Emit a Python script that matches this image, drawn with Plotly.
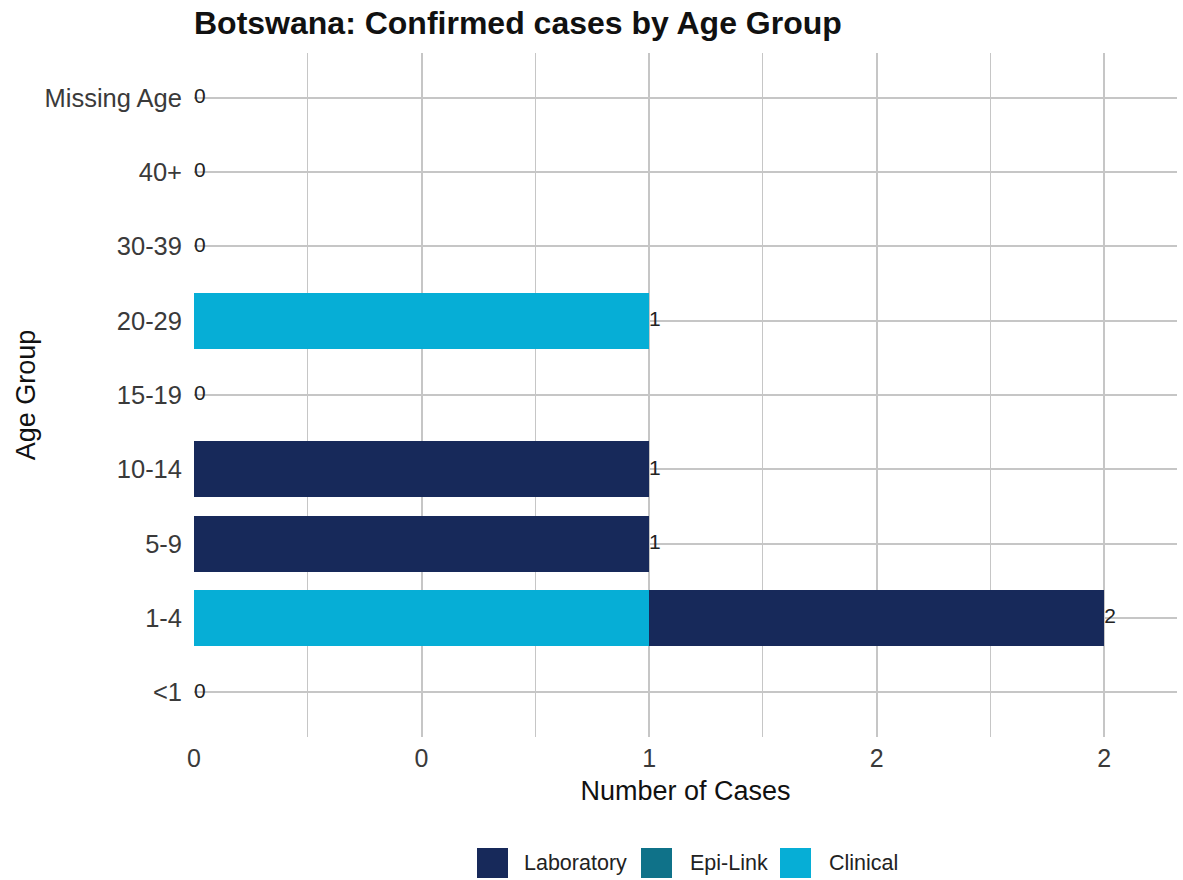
import plotly.graph_objects as go

# ---- data ----
age_groups = ["<1", "1-4", "5-9", "10-14", "15-19", "20-29", "30-39", "40+", "Missing Age"]
laboratory = [0, 1, 1, 1, 0, 0, 0, 0, 0]
epi_link = [0, 0, 0, 0, 0, 0, 0, 0, 0]
clinical = [0, 1, 0, 0, 0, 1, 0, 0, 0]
totals = [a + b + c for a, b, c in zip(laboratory, epi_link, clinical)]

x_tickvals = [0, 0.5, 1, 1.5, 2]
x_ticktext = ["0", "0", "1", "2", "2"]

legend_names = ["Laboratory", "Epi-Link", "Clinical"]
legend_colors = ["#17295a", "#0f7289", "#06aed6"]
color_map = dict(zip(legend_names, legend_colors))

FONT = "Liberation Sans, Arial, sans-serif"
GRID = "#c6c6c6"

W, H = 1183, 880

fig = go.Figure()
# stacking order: Clinical (left), Epi-Link, Laboratory (right)
for name, vals in [("Clinical", clinical), ("Epi-Link", epi_link), ("Laboratory", laboratory)]:
    fig.add_trace(go.Bar(
        y=age_groups, x=vals, name=name, orientation="h",
        marker=dict(color=color_map[name], line=dict(width=0)),
        width=0.75, showlegend=False,
    ))

fig.add_trace(go.Scatter(
    x=totals, y=age_groups, mode="text",
    text=[str(t) for t in totals], textposition="middle right",
    textfont=dict(size=21, color="#222222", family=FONT),
    showlegend=False, cliponaxis=False, hoverinfo="skip",
))

# panel edges in page pixels
px_l, px_r, px_t, px_b = 194, 1177, 53, 737
def xp(px):
    return (px - px_l) / (px_r - px_l)
def yp(py):
    return (px_b - py) / (px_b - px_t)

# manual legend (large keys as in reference)
key_x = [477, 641, 780]
text_x = [522, 688, 827]
for name, col, kx, tx in zip(legend_names, legend_colors, key_x, text_x):
    fig.add_shape(type="rect", xref="paper", yref="paper",
                  x0=xp(kx), x1=xp(kx + 31), y0=yp(878), y1=yp(848),
                  fillcolor=col, line=dict(width=0))
    fig.add_annotation(xref="paper", yref="paper", x=xp(tx), y=yp(863),
                       text=name, showarrow=False, xanchor="left", yanchor="middle",
                       font=dict(size=21.5, color="#222222", family=FONT))

fig.update_layout(
    barmode="stack",
    width=W, height=H,
    margin=dict(l=px_l, r=W - px_r, t=px_t, b=H - px_b, autoexpand=False),
    plot_bgcolor="white", paper_bgcolor="white",
    font=dict(family=FONT),
    title=dict(text="<b>Botswana: Confirmed cases by Age Group</b>",
               x=0, xref="paper", xanchor="left",
               y=1 - 23 / H, yref="container", yanchor="middle",
               font=dict(size=32, color="#111111", family=FONT)),
)

fig.update_xaxes(
    automargin=False,
    range=[0, 2.16], tickvals=x_tickvals, ticktext=x_ticktext,
    showgrid=True, gridcolor=GRID, gridwidth=1.6, zeroline=False,
    ticks="",
    minor=dict(dtick=0.25, tick0=0.25, showgrid=True, gridcolor=GRID, gridwidth=1.3),
    tickfont=dict(size=25, color="#3a3a3a", family=FONT),
    ticklabelstandoff=4,
    title=dict(text="Number of Cases", font=dict(size=27, color="#111111", family=FONT), standoff=10),
    showline=False,
)
fig.update_yaxes(
    automargin=False,
    type="category", categoryorder="array", categoryarray=age_groups,
    range=[-0.6, 8.6],
    showgrid=True, gridcolor=GRID, gridwidth=1.6, zeroline=False,
    ticks="",
    tickfont=dict(size=25.5, color="#3a3a3a", family=FONT),
    ticklabelstandoff=11,
    title=dict(text="Age Group", font=dict(size=27, color="#111111", family=FONT), standoff=1),
    showline=False,
)

fig.write_html("out.html", config={"displayModeBar": False},
               post_script="document.body.style.margin='0px';")
